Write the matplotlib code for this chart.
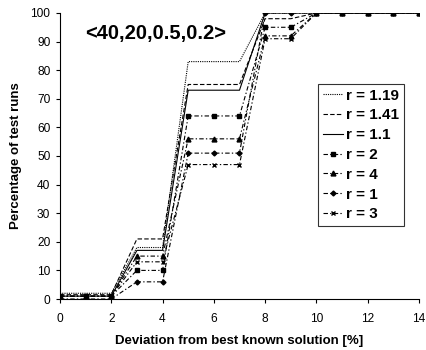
import numpy as np
import matplotlib.pyplot as plt

plt.rcParams['font.family'] = ['Liberation Sans', 'DejaVu Sans']

# Data
x = np.arange(0, 15)
labels = ["r = 1.19", "r = 1.41", "r = 1.1", "r = 2", "r = 4", "r = 1", "r = 3"]
r119 = [2, 2, 2, 18, 18, 83, 83, 83, 100, 100, 100, 100, 100, 100, 100]
r141 = [1.5, 1.5, 1.5, 21, 21, 75, 75, 75, 98, 98, 100, 100, 100, 100, 100]
r11 = [1, 1, 1, 17, 17, 73, 73, 73, 100, 100, 100, 100, 100, 100, 100]
r2 = [1, 1, 1, 10, 10, 64, 64, 64, 95, 95, 100, 100, 100, 100, 100]
r4 = [1, 1, 1, 15, 15, 56, 56, 56, 92, 92, 100, 100, 100, 100, 100]
r1 = [0, 0, 0, 6, 6, 51, 51, 51, 100, 100, 100, 100, 100, 100, 100]
r3 = [1, 1, 1, 13, 13, 47, 47, 47, 91, 91, 100, 100, 100, 100, 100]
series = [r119, r141, r11, r2, r4, r1, r3]

dashdot = (0, (4, 2, 1.2, 2))
styles = [
    dict(linestyle=(0, (1, 1)), marker=None),
    dict(linestyle=(0, (4, 2)), marker=None),
    dict(linestyle='-', marker=None),
    dict(linestyle=dashdot, marker='s', markersize=3.5),
    dict(linestyle=dashdot, marker='^', markersize=3.5),
    dict(linestyle=dashdot, marker='D', markersize=2.5),
    dict(linestyle=dashdot, marker='x', markersize=3, markeredgewidth=1),
]

fig = plt.figure(figsize=(4.27, 3.5), dpi=100)
ax = fig.add_axes([0.1405, 0.1457, 0.8407, 0.8172])

for y, lab, st in zip(series, labels, styles):
    ax.plot(x, y, color='black', linewidth=0.8, label=lab, **st)

ax.set_xlim(0, 14)
ax.set_ylim(0, 100)
ax.set_xticks(np.arange(0, 15, 2))
ax.set_yticks(np.arange(0, 101, 10))
ax.spines['top'].set_visible(False)
ax.spines['right'].set_visible(False)
ax.spines['left'].set_linewidth(0.8)
ax.spines['bottom'].set_linewidth(0.8)
ax.tick_params(axis='both', labelsize=8.6, direction='out', length=3, width=0.8)
ax.tick_params(axis='x', pad=7)
ax.tick_params(axis='y', pad=4)

ax.set_xlabel("Deviation from best known solution [%]", fontsize=9.5, fontweight='bold', labelpad=7)
ax.set_ylabel("Percentage of test runs", fontsize=9.5, fontweight='bold', labelpad=6)

ax.text(0.98, 93, "<40,20,0.5,0.2>", fontsize=14.5, fontweight='bold', va='center', ha='left')

leg = ax.legend(loc='upper left', bbox_to_anchor=(0.719, 0.752), borderaxespad=0,
                fancybox=False, edgecolor='black',
                prop={'weight': 'bold', 'size': 11}, handlelength=1.35,
                handletextpad=0.2, labelspacing=0.38, borderpad=0.3)
leg.get_frame().set_linewidth(0.8)

fig.savefig("out.png", dpi=100)
